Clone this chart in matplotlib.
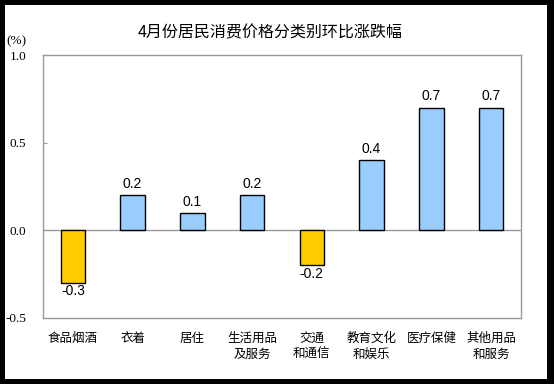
import matplotlib
matplotlib.use("Agg")
import matplotlib.pyplot as plt
from matplotlib.patches import Rectangle

categories = ["食品烟酒", "衣着", "居住", "生活用品\n及服务", "交通\n和通信", "教育文化\n和娱乐", "医疗保健", "其他用品\n和服务"]
values = [-0.3, 0.2, 0.1, 0.2, -0.2, 0.4, 0.7, 0.7]
yticks = [-0.5, 0.0, 0.5, 1.0]
ytick_labels = ["-0.5", "0.0", "0.5", "1.0"]
title = "4月份居民消费价格分类别环比涨跌幅"

W, H = 554, 384
fig = plt.figure(figsize=(W/100, H/100), dpi=100, facecolor="black")
fig.patches.append(Rectangle((5/W, 5/H), (547-5)/W, (379-5)/H, transform=fig.transFigure,
                             facecolor="white", edgecolor="none", zorder=-10))

cjk = ["Noto Sans CJK SC", "DejaVu Sans"]
ax = fig.add_axes([43/W, 1-318/H, (521-43)/W, (318-55)/H])
ax.set_zorder(5)
ax.set_facecolor("white")
x = list(range(len(categories)))
colors = ["#FFCC00" if v < 0 else "#99CCFF" for v in values]
ax.bar(x, values, width=0.41, color=colors, edgecolor="black", linewidth=1, zorder=3)
ax.axhline(0, color="#999999", linewidth=1, zorder=2)
ax.set_xlim(-0.5, len(categories)-0.5)
ax.set_ylim(-0.5, 1.0)
for s in ax.spines.values():
    s.set_color("#999999")
    s.set_linewidth(1)
ax.set_yticks(yticks)
ax.set_yticklabels(ytick_labels, fontfamily="Liberation Serif", fontsize=9.5)
ax.tick_params(axis="y", direction="in", length=3, color="#999999", pad=12)
ax.set_xticks(x)
ax.set_xticklabels(categories, fontfamily=cjk, fontsize=9, linespacing=1.3, va="top")
ax.tick_params(axis="x", length=0, pad=10)

for xi, v in zip(x, values):
    if v >= 0:
        ax.annotate(f"{v:.1f}", (xi, v), xytext=(0, 3), textcoords="offset points",
                    ha="center", va="bottom", fontsize=10, fontfamily="Liberation Sans")
    else:
        ax.annotate(f"{v:.1f}", (xi, v), xytext=(0, -1), textcoords="offset points",
                    ha="center", va="top", fontsize=10, fontfamily="Liberation Sans")

fig.text(270/W, 1-33/H, title, ha="center", va="center", fontsize=11.5, fontfamily=cjk, zorder=6)
fig.text(16/W, 1-41/H, "(%)", ha="center", va="center", fontsize=9.5, fontfamily="Liberation Serif", zorder=6)

fig.savefig("out.png", dpi=100, facecolor="black")
